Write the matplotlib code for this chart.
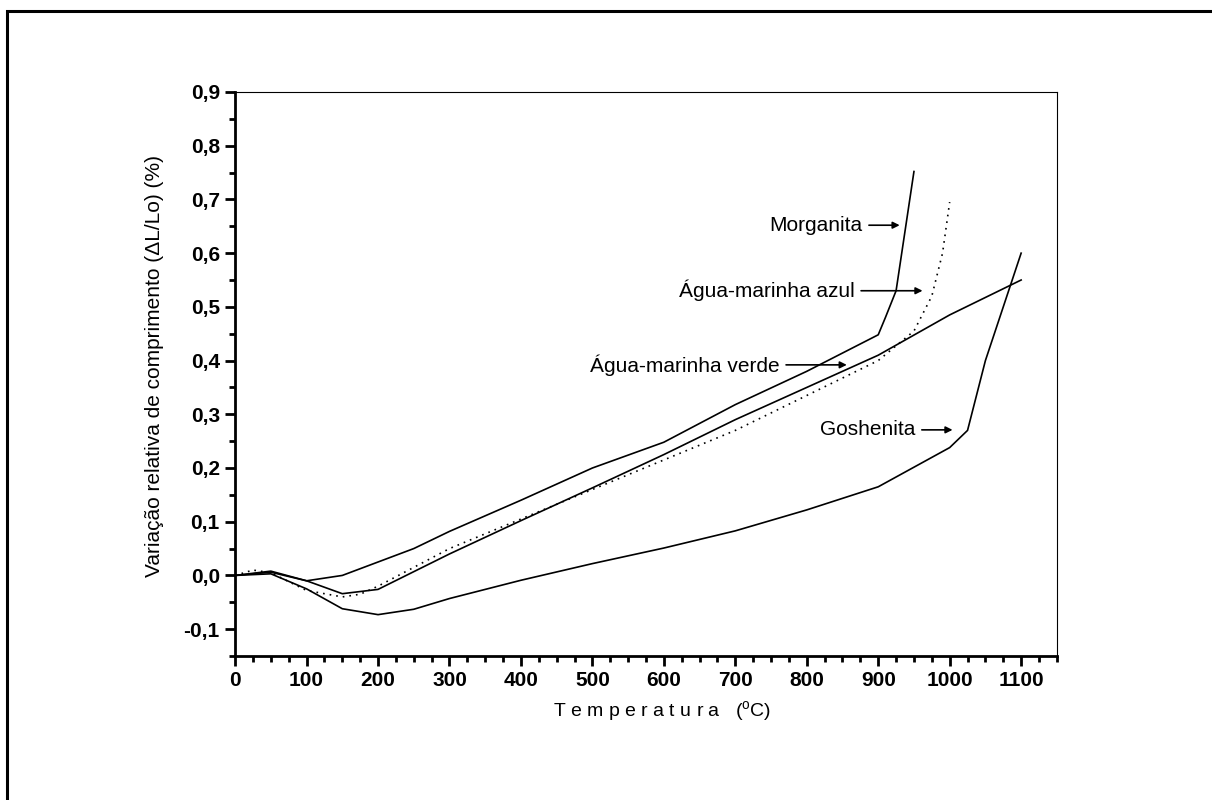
import matplotlib.pyplot as plt
from matplotlib.ticker import MultipleLocator, FuncFormatter
from matplotlib.patches import Rectangle

plt.rcParams['font.family'] = ['Liberation Sans', 'DejaVu Sans']
plt.rcParams['mathtext.fontset'] = 'custom'
plt.rcParams['mathtext.rm'] = 'Liberation Sans'

# Morganita
morg_t = [0, 50, 100, 150, 200, 250, 300, 400, 500, 600, 700, 800, 900, 910, 925, 950]
morg_v = [0.0, 0.006, -0.01, 0.0, 0.025, 0.05, 0.082, 0.14, 0.2, 0.248, 0.318, 0.38, 0.448, 0.48, 0.53, 0.752]

# Água-marinha azul (pontilhada)
azul_t = [0, 25, 50, 100, 150, 175, 200, 300, 400, 500, 600, 700, 800, 900, 950, 975, 990, 1000]
azul_v = [0.0, 0.01, 0.005, -0.028, -0.04, -0.035, -0.02, 0.05, 0.105, 0.16, 0.215, 0.27, 0.335, 0.4, 0.455, 0.52, 0.6, 0.695]

# Água-marinha verde
verde_t = [0, 50, 100, 150, 200, 300, 400, 500, 600, 700, 800, 900, 1000, 1100]
verde_v = [0.0, 0.008, -0.01, -0.034, -0.026, 0.04, 0.102, 0.163, 0.225, 0.29, 0.35, 0.41, 0.485, 0.55]

# Goshenita
gosh_t = [0, 50, 100, 150, 200, 250, 300, 400, 500, 600, 700, 800, 900, 1000, 1025, 1050, 1100]
gosh_v = [0.0, 0.003, -0.025, -0.062, -0.073, -0.063, -0.043, -0.009, 0.022, 0.051, 0.083, 0.122, 0.165, 0.238, 0.27, 0.4, 0.6]

# rótulos: texto, ponta da seta (x, y), comprimento da seta
rotulos = ['Morganita', 'Água-marinha azul', 'Água-marinha verde', 'Goshenita']
setas_x = [930, 962, 856, 1004]
setas_y = [0.652, 0.53, 0.392, 0.271]
setas_len = [43, 86, 85, 43]

fig = plt.figure(figsize=(12.12, 8), dpi=100)
ax = fig.add_axes([0.194, 0.18, 0.678, 0.705])

ax.plot(morg_t, morg_v, color='black', lw=1.2)
ax.plot(azul_t, azul_v, color='black', lw=1.2, linestyle=(0, (1, 3)))
ax.plot(verde_t, verde_v, color='black', lw=1.2)
ax.plot(gosh_t, gosh_v, color='black', lw=1.2)

for txt, hx, hy, ln in zip(rotulos, setas_x, setas_y, setas_len):
    ax.annotate('', xy=(hx, hy), xytext=(hx - ln, hy),
                arrowprops=dict(arrowstyle='-|>', color='black', lw=1.2,
                                mutation_scale=10, shrinkA=0, shrinkB=0))
    ax.text(hx - ln - 9, hy, txt, ha='right', va='center', fontsize=15)

ax.set_xlim(0, 1150)
ax.set_ylim(-0.15, 0.9)
ax.xaxis.set_major_locator(MultipleLocator(100))
ax.xaxis.set_minor_locator(MultipleLocator(25))
ax.yaxis.set_major_locator(MultipleLocator(0.1))
ax.yaxis.set_minor_locator(MultipleLocator(0.05))
ax.yaxis.set_major_formatter(FuncFormatter(lambda v, p: ('%.1f' % v).replace('.', ',').replace('-0,0', '0,0')))
ax.set_xticks([t for t in range(0, 1101, 100)])

for lab in ax.get_xticklabels() + ax.get_yticklabels():
    lab.set_fontweight('bold')
ax.tick_params(axis='both', which='major', direction='out', length=7, width=2, labelsize=15, pad=4)
ax.tick_params(axis='both', which='minor', direction='out', length=4, width=2)
ax.spines['left'].set_linewidth(2)
ax.spines['bottom'].set_linewidth(2)
ax.spines['top'].set_linewidth(0.8)
ax.spines['right'].set_linewidth(0.8)

ax.set_xlabel('T e m p e r a t u r a   ($^{\\rm o}$C)', fontsize=14)
ax.set_ylabel('Variação relativa de comprimento (ΔL/Lo) (%)', fontsize=15)
ax.xaxis.set_label_coords(0.52, -0.077)
ax.yaxis.set_label_coords(-0.086, 0.515)

# moldura externa
fig.patches.append(Rectangle((7 / 1212, -0.1), 1.2, 1.1 - 11 / 800, transform=fig.transFigure,
                             fill=False, edgecolor='black', lw=2.2))

fig.savefig('out.png', dpi=100)
